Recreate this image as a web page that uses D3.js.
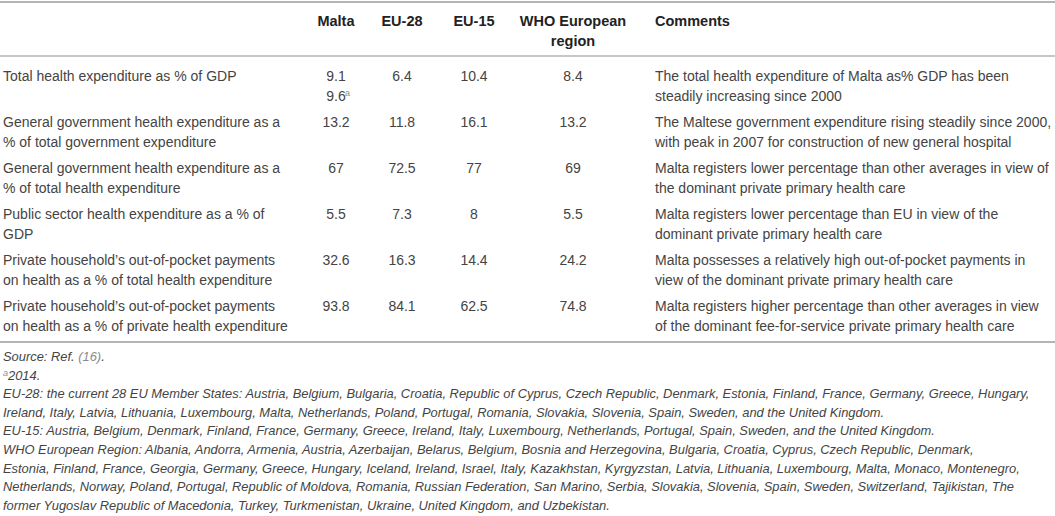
<!DOCTYPE html>
<html>
<head>
<meta charset="utf-8">
<script src="https://cdn.jsdelivr.net/npm/d3@7"></script>
<style>
  body { margin: 0; background: #fff; }
  svg { display: block; font-family: "Liberation Sans", Arial, sans-serif; }
  .rule { stroke: #b4b4b4; }
  .head { font-weight: bold; fill: #222; font-size: 14.5px; }
  .cell { fill: #444; font-size: 14px; }
  .note { fill: #444; font-size: 12.9px; font-style: italic; }
  .ref { fill: #8c8c8c; }
  .sup { fill: #8c8c8c; font-size: 9px; }
</style>
</head>
<body>
<div id="table"></div>
<script>
// table content
let columns = ["Malta", "EU-28", "EU-15", "WHO European\nregion"];

let indicators = [
  "Total health expenditure as % of GDP",
  "General government health expenditure as a\n% of total government expenditure",
  "General government health expenditure as a\n% of total health expenditure",
  "Public sector health expenditure as a % of\nGDP",
  "Private household\u2019s out-of-pocket payments\non health as a % of total health expenditure",
  "Private household\u2019s out-of-pocket payments\non health as a % of private health expenditure"
];

let malta = [9.1, 13.2, 67, 5.5, 32.6, 93.8];
let malta2014 = 9.6;
let eu28 = [6.4, 11.8, 72.5, 7.3, 16.3, 84.1];
let eu15 = [10.4, 16.1, 77, 8, 14.4, 62.5];
let whoEurope = [8.4, 13.2, 69, 5.5, 24.2, 74.8];

let comments = [
  "The total health expenditure of Malta as% GDP has been\nsteadily increasing since 2000",
  "The Maltese government expenditure rising steadily since 2000,\nwith peak in 2007 for construction of new general hospital",
  "Malta registers lower percentage than other averages in view of\nthe dominant private primary health care",
  "Malta registers lower percentage than EU in view of the\ndominant private primary health care",
  "Malta possesses a relatively high out-of-pocket payments in\nview of the dominant private primary health care",
  "Malta registers higher percentage than other averages in view\nof the dominant fee-for-service private primary health care"
];

let footnotes = [
  "EU-28: the current 28 EU Member States: Austria, Belgium, Bulgaria, Croatia, Republic of Cyprus, Czech Republic, Denmark, Estonia, Finland, France, Germany, Greece, Hungary,",
  "Ireland, Italy, Latvia, Lithuania, Luxembourg, Malta, Netherlands, Poland, Portugal, Romania, Slovakia, Slovenia, Spain, Sweden, and the United Kingdom.",
  "EU-15: Austria, Belgium, Denmark, Finland, France, Germany, Greece, Ireland, Italy, Luxembourg, Netherlands, Portugal, Spain, Sweden, and the United Kingdom.",
  "WHO European Region: Albania, Andorra, Armenia, Austria, Azerbaijan, Belarus, Belgium, Bosnia and Herzegovina, Bulgaria, Croatia, Cyprus, Czech Republic, Denmark,",
  "Estonia, Finland, France, Georgia, Germany, Greece, Hungary, Iceland, Ireland, Israel, Italy, Kazakhstan, Kyrgyzstan, Latvia, Lithuania, Luxembourg, Malta, Monaco, Montenegro,",
  "Netherlands, Norway, Poland, Portugal, Republic of Moldova, Romania, Russian Federation, San Marino, Serbia, Slovakia, Slovenia, Spain, Sweden, Switzerland, Tajikistan, The",
  "former Yugoslav Republic of Macedonia, Turkey, Turkmenistan, Ukraine, United Kingdom, and Uzbekistan."
];

let width = 1055;
let height = 516;
let lineHeight = 19.5;

let svg = d3.select("#table").append("svg")
  .attr("width", width)
  .attr("height", height);

// column centres for the value columns
let x = d3.scaleOrdinal()
  .domain(columns)
  .range([336, 402, 474, 573]);
let labelX = 3;
let commentX = 655;

// one band per indicator row
let y = d3.scaleBand()
  .domain(indicators)
  .range([56, 332]);

function multiline(sel, text) {
  let lines = text.split("\n");
  sel.selectAll("tspan")
    .data(lines)
    .enter().append("tspan")
      .attr("x", sel.attr("x"))
      .attr("dy", function(d, i) { return i ? lineHeight : 0; })
      .text(function(d) { return d; });
}

function drawRules() {
  console.log("call drawRules()");
  svg.append("line").classed("rule", true)
    .attr("x1", 0).attr("x2", width)
    .attr("y1", 2).attr("y2", 2)
    .attr("stroke-width", 2);
  svg.append("line").classed("rule", true)
    .attr("x1", 0).attr("x2", width)
    .attr("y1", y.range()[0]).attr("y2", y.range()[0])
    .attr("stroke-width", 1.5);
  svg.append("line").classed("rule", true)
    .attr("x1", 0).attr("x2", width)
    .attr("y1", y.range()[1] + 10).attr("y2", y.range()[1] + 10)
    .attr("stroke-width", 2);
}

function drawHeader() {
  console.log("call drawHeader()");
  svg.selectAll(".colHead")
    .data(columns)
    .enter().append("text")
      .classed("head", true)
      .attr("x", function(d) { return x(d); })
      .attr("y", 26)
      .attr("text-anchor", "middle")
      .each(function(d) { multiline(d3.select(this), d); });

  svg.append("text")
    .classed("head", true)
    .attr("x", commentX)
    .attr("y", 26)
    .text("Comments");
}

function drawRows() {
  console.log("call drawRows()");
  let base = function(d) { return y(d) + 25; };

  svg.selectAll(".label")
    .data(indicators)
    .enter().append("text")
      .classed("cell", true)
      .attr("x", labelX)
      .attr("y", base)
      .each(function(d) { multiline(d3.select(this), d); });

  let series = [malta, eu28, eu15, whoEurope];
  series.forEach(function(values, c) {
    svg.selectAll(".value" + c)
      .data(values)
      .enter().append("text")
        .classed("cell", true)
        .attr("x", x(columns[c]))
        .attr("y", function(d, i) { return base(indicators[i]); })
        .attr("text-anchor", "middle")
        .text(function(d) { return d; });
  });

  // second Malta figure (2014) with footnote mark
  let extra = svg.append("g")
    .attr("transform", "translate(" + x(columns[0]) + "," + (base(indicators[0]) + lineHeight) + ")");
  extra.append("text")
    .classed("cell", true)
    .attr("text-anchor", "middle")
    .text(malta2014);
  extra.append("text")
    .classed("sup", true)
    .attr("x", 9)
    .attr("y", -5)
    .text("a");

  svg.selectAll(".comment")
    .data(comments)
    .enter().append("text")
      .classed("cell", true)
      .attr("x", commentX)
      .attr("y", function(d, i) { return base(indicators[i]); })
      .each(function(d) { multiline(d3.select(this), d); });
}

function drawNotes() {
  console.log("call drawNotes()");
  let top = 361;
  let step = 18.6;

  let source = svg.append("text")
    .classed("note", true)
    .attr("x", labelX)
    .attr("y", top);
  source.append("tspan").text("Source: Ref. ");
  source.append("tspan").classed("ref", true).text("(16)");
  source.append("tspan").text(".");

  let year = svg.append("text")
    .classed("note", true)
    .attr("x", labelX)
    .attr("y", top + step);
  year.append("tspan").classed("sup", true).attr("dy", -4).text("a");
  year.append("tspan").attr("dy", 4).text("2014.");

  svg.selectAll(".foot")
    .data(footnotes)
    .enter().append("text")
      .classed("note", true)
      .attr("x", labelX)
      .attr("y", function(d, i) { return top + step * (i + 2); })
      .text(function(d) { return d; });
}

drawRules();
drawHeader();
drawRows();
drawNotes();
</script>
</body>
</html>
